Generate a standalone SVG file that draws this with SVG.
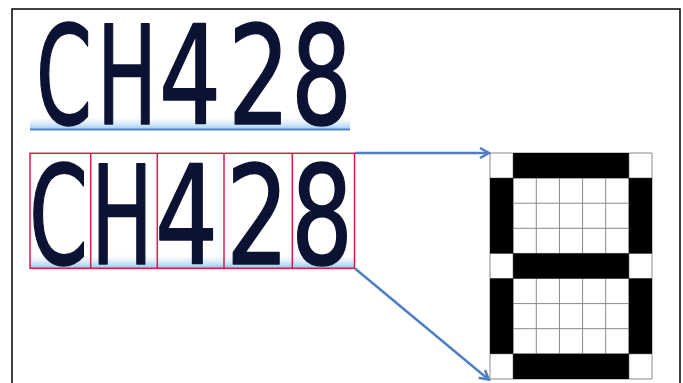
<svg xmlns="http://www.w3.org/2000/svg" width="683" height="383" viewBox="0 0 683 383">
<style>
.plate{font-family:"DejaVu Sans Condensed","DejaVu Sans",sans-serif;font-stretch:condensed;font-size:137px;fill:#0b1233;stroke:#0b1233;stroke-width:1.6;stroke-linejoin:round}
.seg{fill:none;stroke:#d0204a;stroke-width:1.5}
.grid{stroke:#8a8a8a;stroke-width:1}
.blk{fill:#000}
.conn{stroke:#4f7fc0;stroke-width:2.5;fill:none}
</style>
<defs>
<linearGradient id="glow" x1="0" y1="0" x2="0" y2="1">
<stop offset="0" stop-color="#cfe4f7" stop-opacity="0"/>
<stop offset="1" stop-color="#8dbde9" stop-opacity="0.9"/>
</linearGradient>
<marker id="arr" markerWidth="12" markerHeight="12" refX="9" refY="6" orient="auto" markerUnits="userSpaceOnUse">
<path d="M1,1 L10,6 L1,11" fill="none" stroke="#4f7fc0" stroke-width="2.5" stroke-linejoin="miter"/>
</marker>
</defs>
<rect width="683" height="383" fill="#fff"/>
<path d="M12,383 V9 H680 V383" fill="none" stroke="#000" stroke-width="1.5"/>
<g id="plate-top">
<rect x="30" y="117" width="320" height="13" fill="url(#glow)"/>
<line x1="30" y1="129.5" x2="350" y2="129.5" stroke="#4f86cc" stroke-width="2"/>
<text class="plate" x="36" y="124" textLength="56" lengthAdjust="spacingAndGlyphs">C</text>
<text class="plate" x="97" y="124" textLength="60" lengthAdjust="spacingAndGlyphs">H</text>
<text class="plate" x="159" y="124" textLength="62" lengthAdjust="spacingAndGlyphs">4</text>
<text class="plate" x="228" y="124" textLength="62" lengthAdjust="spacingAndGlyphs">2</text>
<text class="plate" x="291" y="124" textLength="61" lengthAdjust="spacingAndGlyphs">8</text>
</g>
<g id="plate-segmented">
<rect x="30" y="255" width="325" height="13" fill="url(#glow)"/>
<text class="plate" x="29" y="264" textLength="59" lengthAdjust="spacingAndGlyphs">C</text>
<text class="plate" x="91" y="264" textLength="62" lengthAdjust="spacingAndGlyphs">H</text>
<text class="plate" x="155" y="264" textLength="63" lengthAdjust="spacingAndGlyphs">4</text>
<text class="plate" x="226" y="264" textLength="63" lengthAdjust="spacingAndGlyphs">2</text>
<text class="plate" x="291" y="264" textLength="62" lengthAdjust="spacingAndGlyphs">8</text>
<rect class="seg" x="30" y="153.3" width="324.5" height="115"/>
<path class="seg" d="M90.7,153.3 V268.3 M157.3,153.3 V268.3 M224,153.3 V268.3 M292.3,153.3 V268.3"/>
</g>
<g id="dot-matrix">
<g class="grid">
<path d="M490,153 V379 M513.14,153 V379 M536.29,153 V379 M559.43,153 V379 M582.57,153 V379 M605.71,153 V379 M628.86,153 V379 M652,153 V379"/>
<path d="M490,153 H652 M490,178.1 H652 M490,203.2 H652 M490,228.3 H652 M490,253.4 H652 M490,278.5 H652 M490,303.6 H652 M490,328.7 H652 M490,353.8 H652 M490,379 H652"/>
</g>
<rect class="blk" x="513.14" y="153" width="115.72" height="25.1"/>
<rect class="blk" x="513.14" y="253.4" width="115.72" height="25.1"/>
<rect class="blk" x="513.14" y="353.8" width="115.72" height="25.2"/>
<rect class="blk" x="490" y="178.1" width="23.14" height="75.3"/>
<rect class="blk" x="628.86" y="178.1" width="23.14" height="75.3"/>
<rect class="blk" x="490" y="278.5" width="23.14" height="75.3"/>
<rect class="blk" x="628.86" y="278.5" width="23.14" height="75.3"/>
</g>
<g id="connectors">
<line class="conn" x1="355" y1="153" x2="488" y2="153" marker-end="url(#arr)"/>
<line class="conn" x1="355" y1="268.5" x2="488" y2="379" marker-end="url(#arr)"/>
</g>
</svg>
